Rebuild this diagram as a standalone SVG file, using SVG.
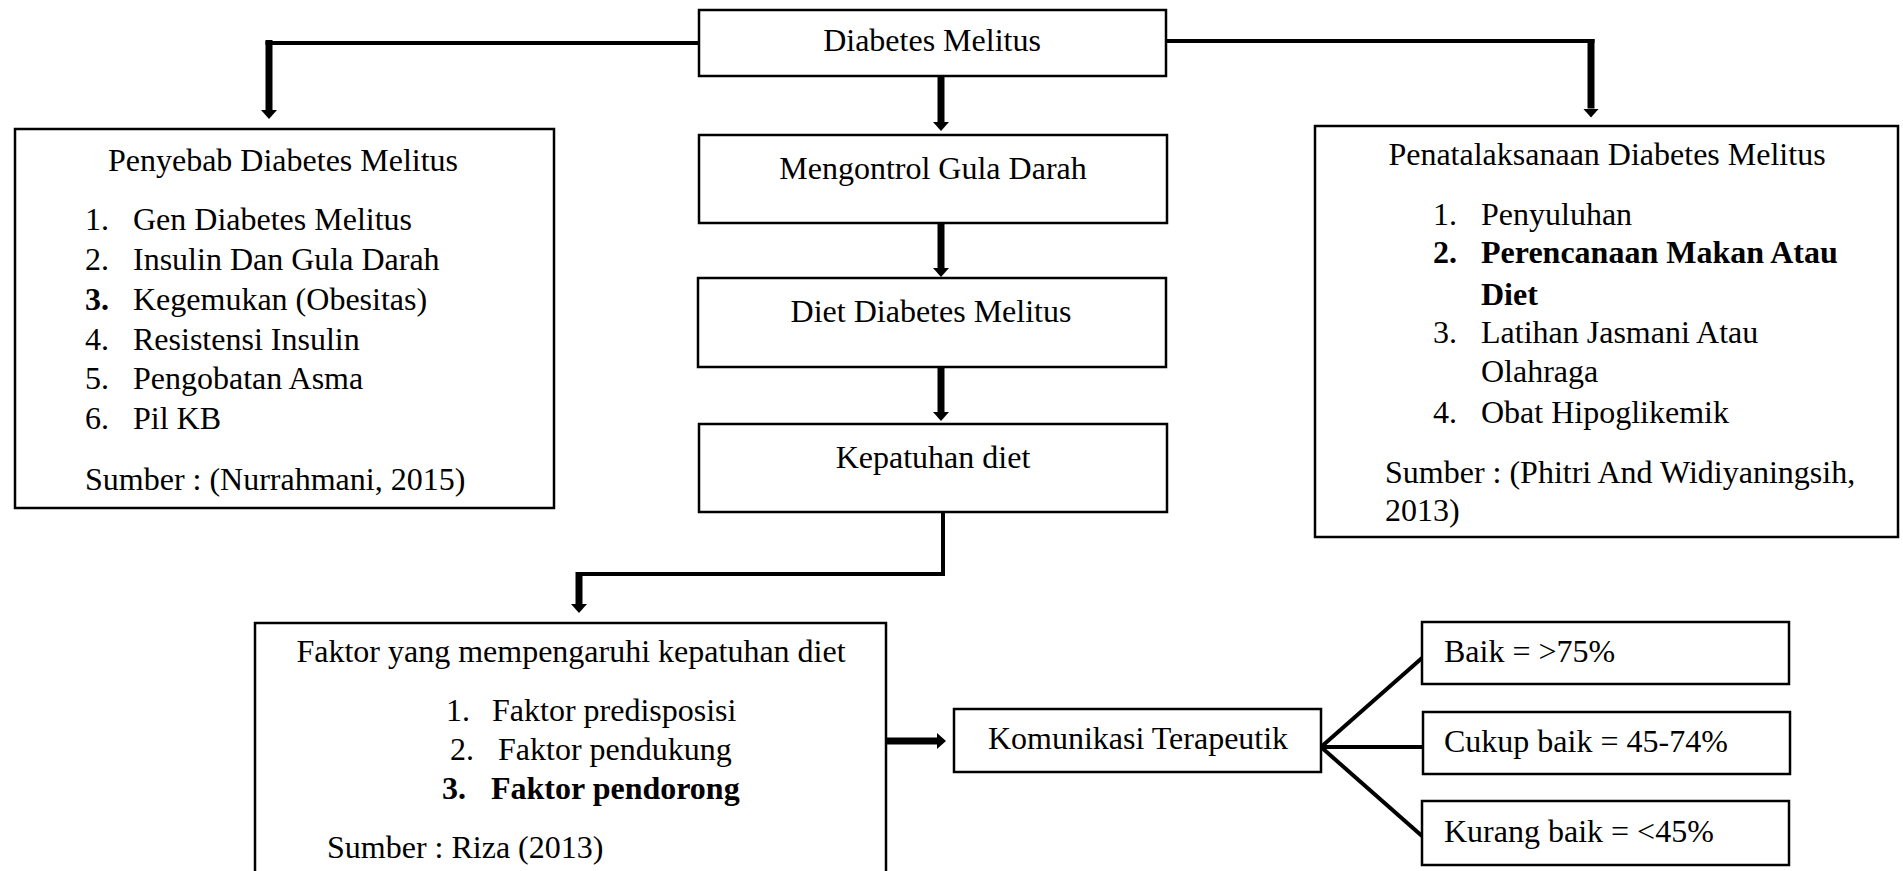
<svg xmlns="http://www.w3.org/2000/svg" width="1903" height="871" viewBox="0 0 1903 871">
<style>
  .box { fill: #ffffff; stroke: #000000; stroke-width: 2.5; }
  text { font-family: "Liberation Serif", "Times New Roman", serif; font-size: 32px; fill: #000000; }
  .c { text-anchor: middle; }
  .b { font-weight: bold; }
  .thin { fill: none; stroke: #000000; stroke-width: 4; }
  .shaft { fill: none; stroke: #000000; stroke-width: 7; }
</style>
<defs>
  <marker id="ah" viewBox="0 0 9 16" refX="0" refY="8" markerWidth="9" markerHeight="16" markerUnits="userSpaceOnUse" orient="auto">
    <path d="M0,0 L9,8 L0,16 Z" fill="#000000"/>
  </marker>
</defs>
<rect width="1903" height="871" fill="#ffffff"/>

<g id="connectors">
  <!-- top left -->
  <line class="thin" x1="699" y1="43" x2="265.5" y2="43"/>
  <line class="shaft" x1="269" y1="40" x2="269" y2="110" marker-end="url(#ah)"/>
  <!-- top right -->
  <line class="thin" x1="1166" y1="41" x2="1594.5" y2="41"/>
  <line class="shaft" x1="1591" y1="39" x2="1591" y2="108.5" marker-end="url(#ah)"/>
  <!-- center chain -->
  <line class="shaft" x1="941" y1="76" x2="941" y2="122" marker-end="url(#ah)"/>
  <line class="shaft" x1="941" y1="223" x2="941" y2="268" marker-end="url(#ah)"/>
  <line class="shaft" x1="941" y1="367" x2="941" y2="412" marker-end="url(#ah)"/>
  <!-- kepatuhan to faktor -->
  <path class="thin" d="M943,512 V574 H576"/>
  <line class="shaft" x1="579" y1="572" x2="579" y2="604" marker-end="url(#ah)"/>
  <!-- faktor to komunikasi -->
  <line class="shaft" x1="886" y1="741" x2="937" y2="741" marker-end="url(#ah)"/>
  <!-- branches -->
  <line class="thin" x1="1321" y1="747" x2="1422" y2="658"/>
  <line class="thin" x1="1321" y1="747" x2="1422" y2="747"/>
  <line class="thin" x1="1321" y1="747" x2="1422" y2="836"/>
</g>

<g id="diabetes-melitus">
  <rect class="box" x="699" y="10" width="467" height="66"/>
  <text class="c" x="932" y="51">Diabetes Melitus</text>
</g>

<g id="mengontrol-gula-darah">
  <rect class="box" x="699" y="135" width="468" height="88"/>
  <text class="c" x="933" y="179">Mengontrol Gula Darah</text>
</g>

<g id="diet-diabetes-melitus">
  <rect class="box" x="698" y="278" width="468" height="89"/>
  <text class="c" x="931" y="322">Diet Diabetes Melitus</text>
</g>

<g id="kepatuhan-diet">
  <rect class="box" x="699" y="424" width="468" height="88"/>
  <text class="c" x="933" y="468">Kepatuhan diet</text>
</g>

<g id="penyebab">
  <rect class="box" x="15" y="129" width="539" height="379"/>
  <text class="c" x="283" y="171">Penyebab Diabetes Melitus</text>
  <text x="85" y="230">1.</text><text x="133" y="230">Gen Diabetes Melitus</text>
  <text x="85" y="270">2.</text><text x="133" y="270">Insulin Dan Gula Darah</text>
  <text class="b" x="85" y="310">3.</text><text x="133" y="310">Kegemukan (Obesitas)</text>
  <text x="85" y="350">4.</text><text x="133" y="350">Resistensi Insulin</text>
  <text x="85" y="389">5.</text><text x="133" y="389">Pengobatan Asma</text>
  <text x="85" y="429">6.</text><text x="133" y="429">Pil KB</text>
  <text x="85" y="490">Sumber : (Nurrahmani, 2015)</text>
</g>

<g id="penatalaksanaan">
  <rect class="box" x="1315" y="126" width="583" height="411"/>
  <text class="c" x="1607" y="165">Penatalaksanaan Diabetes Melitus</text>
  <text x="1433" y="225">1.</text><text x="1481" y="225">Penyuluhan</text>
  <text class="b" x="1433" y="263">2.</text><text class="b" x="1481" y="263">Perencanaan Makan Atau</text>
  <text class="b" x="1481" y="305">Diet</text>
  <text x="1433" y="343">3.</text><text x="1481" y="343">Latihan Jasmani Atau</text>
  <text x="1481" y="382">Olahraga</text>
  <text x="1433" y="423">4.</text><text x="1481" y="423">Obat Hipoglikemik</text>
  <text x="1385" y="483">Sumber : (Phitri And Widiyaningsih,</text>
  <text x="1385" y="521">2013)</text>
</g>

<g id="faktor">
  <rect class="box" x="255" y="623" width="631" height="270"/>
  <text class="c" x="571" y="662">Faktor yang mempengaruhi kepatuhan diet</text>
  <text x="446" y="721">1.</text><text x="492" y="721">Faktor predisposisi</text>
  <text x="450" y="760">2.</text><text x="498" y="760">Faktor pendukung</text>
  <text class="b" x="442" y="799">3.</text><text class="b" x="491" y="799">Faktor pendorong</text>
  <text x="327" y="858">Sumber : Riza (2013)</text>
</g>

<g id="komunikasi">
  <rect class="box" x="954" y="709" width="367" height="63"/>
  <text class="c" x="1138" y="749">Komunikasi Terapeutik</text>
</g>

<g id="baik">
  <rect class="box" x="1422" y="622" width="367" height="62"/>
  <text x="1444" y="662">Baik = &gt;75%</text>
</g>

<g id="cukup-baik">
  <rect class="box" x="1423" y="712" width="367" height="62"/>
  <text x="1444" y="752">Cukup baik = 45-74%</text>
</g>

<g id="kurang-baik">
  <rect class="box" x="1422" y="801" width="367" height="64"/>
  <text x="1444" y="842">Kurang baik = &lt;45%</text>
</g>
</svg>
